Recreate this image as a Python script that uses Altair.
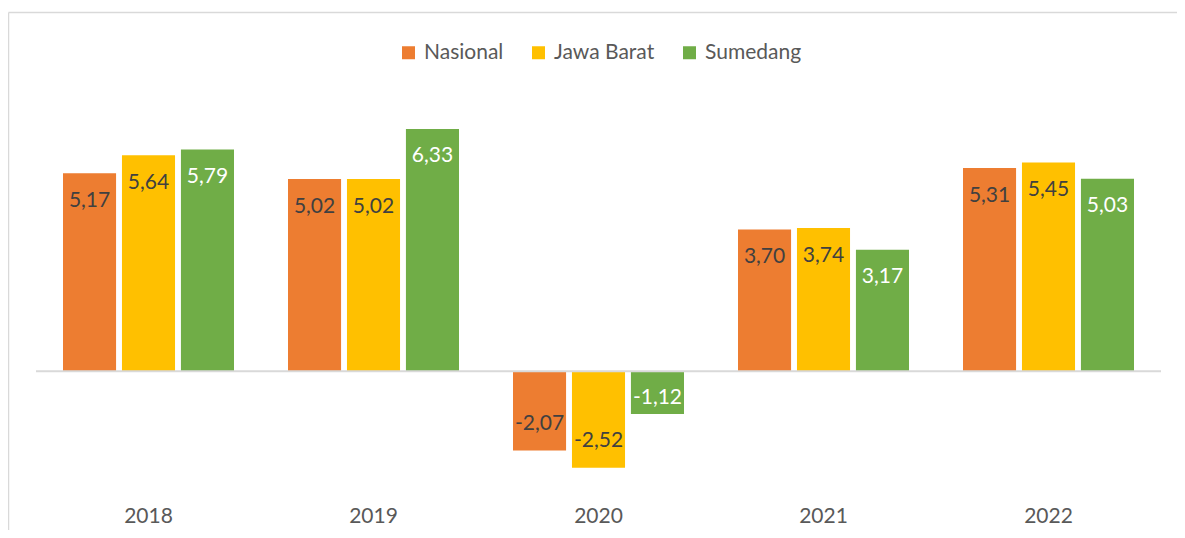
import altair as alt
import pandas as pd

years = ["2018", "2019", "2020", "2021", "2022"]
series = ["Nasional", "Jawa Barat", "Sumedang"]
nasional = [5.17, 5.02, -2.07, 3.70, 5.31]
jawa_barat = [5.64, 5.02, -2.52, 3.74, 5.45]
sumedang = [5.79, 6.33, -1.12, 3.17, 5.03]
colors = ["#ED7D31", "#FFC000", "#70AD47"]

rows = []
for name, vals in zip(series, [nasional, jawa_barat, sumedang]):
    for y, v in zip(years, vals):
        rows.append({"year": y, "series": name, "value": v,
                     "label": f"{v:.2f}".replace(".", ",")})
df = pd.DataFrame(rows)

FONT = "Lato"
FS = 21
W, H = 1125, 444

x_enc = alt.X("year:N", sort=years,
              scale=alt.Scale(paddingInner=0.24, paddingOuter=0.12),
              axis=alt.Axis(title=None, labelAngle=0, domain=False, ticks=False,
                            labelFontSize=FS, labelFont=FONT, labelColor="#595959",
                            labelPadding=-4, grid=False))
y_scale = alt.Scale(domain=[-3.6, 8], nice=False, zero=False)
xoff = alt.XOffset("series:N", sort=series, scale=alt.Scale(paddingInner=0.1))

base = alt.Chart(df)

bars = base.mark_bar().encode(
    x=x_enc,
    xOffset=xoff,
    y=alt.Y("value:Q", scale=y_scale, axis=None),
    y2=alt.datum(0),
    color=alt.Color("series:N", sort=series,
                    scale=alt.Scale(domain=series, range=colors),
                    legend=alt.Legend(title=None, orient="none", direction="horizontal",
                                      legendX=362, legendY=-23,
                                      symbolType="square", symbolSize=169,
                                      symbolStrokeWidth=0, labelFont=FONT,
                                      labelFontSize=FS, labelColor="#595959",
                                      labelOffset=5, columnPadding=24)),
)

labels = base.transform_calculate(
    ly="datum.value >= 0 ? datum.value - 0.72 : min(datum.value + 0.7, datum.value * 0.62)"
).mark_text(font=FONT, fontSize=FS, baseline="middle", align="center").encode(
    x=alt.X("year:N", sort=years),
    xOffset=alt.XOffset("series:N", sort=series),
    y=alt.Y("ly:Q", scale=y_scale),
    text="label:N",
    color=alt.condition("datum.series == 'Sumedang'", alt.value("white"), alt.value("#404040")),
)

one = pd.DataFrame({"a": [0]})
baseline = alt.Chart(one).mark_rule(color="#D9D9D9", strokeWidth=2).encode(
    y=alt.datum(0), x=alt.value(0), x2=alt.value(W)
)
top_border = alt.Chart(one).mark_rule(color="#D9D9D9", strokeWidth=1.5).encode(
    x=alt.value(-27.5), x2=alt.value(W + 16), y=alt.value(-52.5)
)
left_border = alt.Chart(one).mark_rule(color="#D9D9D9", strokeWidth=1.5).encode(
    x=alt.value(-27.5), y=alt.value(-52.5), y2=alt.value(H + 21)
)

chart = alt.layer(bars, baseline, labels, top_border, left_border).properties(
    width=W, height=H,
    autosize=alt.AutoSizeParams(type="none"),
    padding={"left": 28, "top": 57, "right": 16, "bottom": 21},
).configure_view(stroke=None)

chart.save("out.html", embed_options={"renderer": "svg", "actions": False})
